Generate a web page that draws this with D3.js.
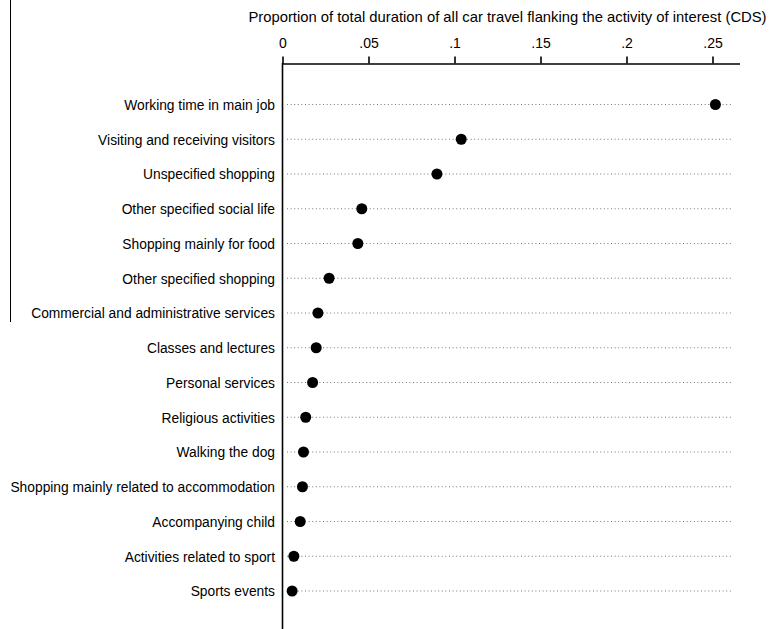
<!DOCTYPE html>
<html>
<head>
<meta charset="utf-8">
<script src="https://cdn.jsdelivr.net/npm/d3@7"></script>
<style>
  html, body { margin: 0; padding: 0; background: #fff; }
  svg text { font-family: "Liberation Sans", Arial, Helvetica, sans-serif; fill: #000; }
</style>
</head>
<body>
<svg id="chart" width="771" height="629"></svg>
<script>
const categories = [
  "Working time in main job",
  "Visiting and receiving visitors",
  "Unspecified shopping",
  "Other specified social life",
  "Shopping mainly for food",
  "Other specified shopping",
  "Commercial and administrative services",
  "Classes and lectures",
  "Personal services",
  "Religious activities",
  "Walking the dog",
  "Shopping mainly related to accommodation",
  "Accompanying child",
  "Activities related to sport",
  "Sports events"
];
const values = [0.2517, 0.1039, 0.0898, 0.0461, 0.0438, 0.0271, 0.0206, 0.0196, 0.0175, 0.0135, 0.0122, 0.0116, 0.0103, 0.0066, 0.0056];
const tickValues = [0, 0.05, 0.1, 0.15, 0.2, 0.25];
const tickLabels = ["0", ".05", ".1", ".15", ".2", ".25"];
const axisTitle = "Proportion of total duration of all car travel flanking the activity of interest (CDS)";

const svg = d3.select("#chart");
const x = d3.scaleLinear().domain([0, 0.2657]).range([282.5, 739.5]);
const y = d3.scalePoint().domain(categories).range([104, 590.5]);

// stray left frame line
svg.append("line").attr("x1", 10.5).attr("x2", 10.5).attr("y1", 0).attr("y2", 322)
  .attr("stroke", "#000").attr("stroke-width", 1);

// dotted guide lines
svg.append("g").selectAll("line").data(categories).join("line")
  .attr("x1", 287).attr("x2", 731)
  .attr("y1", d => y(d) + 0.5).attr("y2", d => y(d) + 0.5)
  .attr("stroke", "#777").attr("stroke-width", 1)
  .attr("stroke-dasharray", "1,2.6");

// top axis
const xAxis = d3.axisTop(x).tickValues(tickValues)
  .tickFormat((d, i) => tickLabels[i]).tickSize(7).tickSizeOuter(0).tickPadding(9);
const gx = svg.append("g").attr("transform", "translate(0,63.5)").call(xAxis);
gx.select(".domain").attr("stroke", "#000").attr("stroke-width", 1.6);
gx.selectAll(".tick line").attr("stroke", "#000").attr("stroke-width", 1.6);
gx.selectAll(".tick text").attr("font-size", "14px")
  .style("font-family", '"Liberation Sans", Arial, sans-serif').attr("fill", "#000");

// left y axis line
svg.append("line").attr("x1", 282.5).attr("x2", 282.5).attr("y1", 63).attr("y2", 629)
  .attr("stroke", "#000").attr("stroke-width", 1.6);

// category labels
svg.append("g").selectAll("text").data(categories).join("text")
  .attr("x", 275).attr("y", d => y(d) + 1)
  .attr("dy", "0.36em")
  .attr("text-anchor", "end")
  .attr("font-size", "13.8px")
  .text(d => d);

// title
svg.append("text").attr("x", 507.5).attr("y", 22).attr("text-anchor", "middle")
  .attr("font-size", "14.8px").text(axisTitle);

// dots
svg.append("g").selectAll("circle").data(values).join("circle")
  .attr("cx", d => x(d)).attr("cy", (d, i) => y(categories[i]) + 0.5)
  .attr("r", 5.5).attr("fill", "#000");
</script>
</body>
</html>
